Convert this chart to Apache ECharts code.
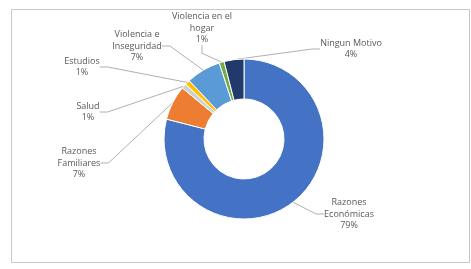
<!DOCTYPE html>
<html>
<head>
<meta charset="utf-8">
<script src="https://cdn.jsdelivr.net/npm/echarts@6/dist/echarts.min.js"></script>
<style>
  html, body { margin: 0; padding: 0; background: #fff; }
  #main { width: 471px; height: 269px; }
</style>
</head>
<body>
<div id="main"></div>
<script>
// datos del grafico
const categories = [
  'Razones\nEconómicas',
  'Razones\nFamiliares',
  'Salud',
  'Estudios',
  'Violencia e\nInseguridad',
  'Violencia en el\nhogar',
  'Ningun Motivo'
];
const values = [79, 7, 1, 1, 7, 1, 4];
const colors = ['#4472c4', '#ed7d31', '#d0d0d0', '#ffc000', '#5b9bd5', '#70ad47', '#213a6b'];

// posiciones de las etiquetas (centro del bloque de texto)
const labelPos = [
  [349, 214],
  [79, 163],
  [88, 112],
  [82, 67],
  [137, 46],
  [202, 28],
  [351, 49]
];

const myChart = echarts.init(document.getElementById('main'));

myChart.setOption({
  backgroundColor: '#fff',
  animation: false,
  graphic: [{
    type: 'rect',
    shape: { x: 11.5, y: 9.5, width: 458, height: 253 },
    style: { fill: 'none', stroke: '#c8c8c8', lineWidth: 1 },
    silent: true
  }],
  series: [{
    type: 'pie',
    center: [244, 139],
    radius: [40, 80],
    startAngle: 90,
    clockwise: true,
    itemStyle: { borderColor: '#fff', borderWidth: 1 },
    label: {
      show: true,
      position: 'outside',
      formatter: '{b}\n{c}%',
      fontFamily: 'Open Sans',
      fontSize: 9,
      lineHeight: 11.5,
      color: '#595959',
      align: 'center'
    },
    labelLine: {
      show: true,
      length: 8,
      length2: 8,
      lineStyle: { color: '#b0b0b0', width: 1 }
    },
    labelLayout: function (params) {
      const p = labelPos[params.dataIndex];
      return {
        x: p[0],
        y: p[1],
        align: 'center',
        verticalAlign: 'middle'
      };
    },
    data: categories.map((name, i) => ({
      name: name,
      value: values[i],
      itemStyle: { color: colors[i] }
    }))
  }]
});
</script>
</body>
</html>
